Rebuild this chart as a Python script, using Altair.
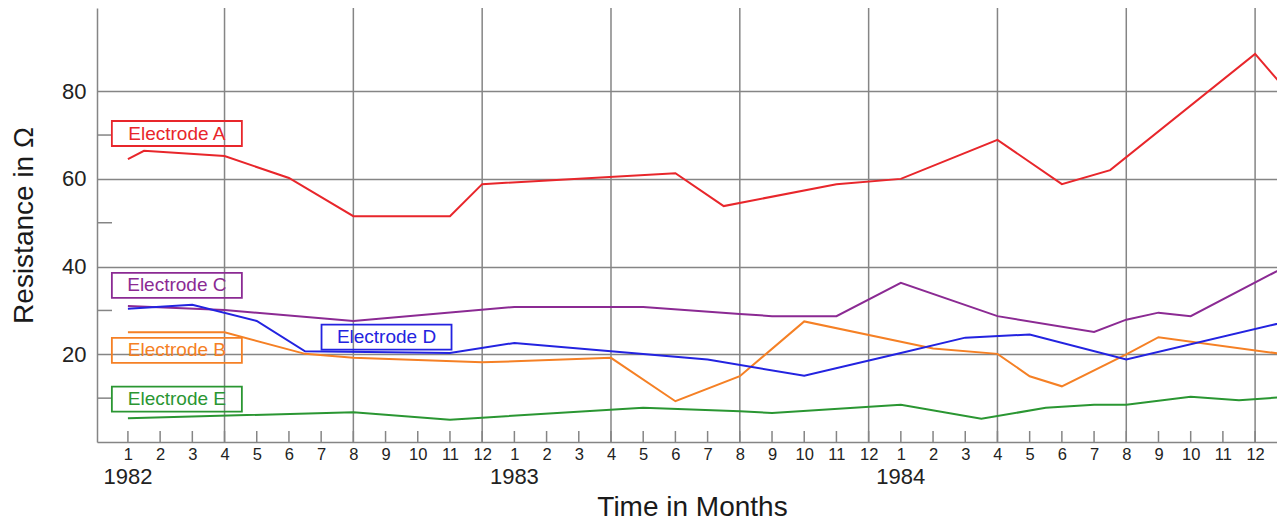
import altair as alt
import pandas as pd

# ---------------- data (month index: 0 = January 1982) ----------------
electrodes = ["Electrode A", "Electrode B", "Electrode C", "Electrode D", "Electrode E"]
colors = ["#e8262b", "#f58025", "#8b2a93", "#2323e0", "#2a9632"]

a_month = [0, 0.5, 3, 5, 7, 10, 11, 17, 18.5, 22, 24, 27, 29, 30.5, 35, 36]
a_value = [64.5, 66.4, 65.2, 60.2, 51.5, 51.5, 58.8, 61.3, 53.8, 58.8, 60.0, 68.9, 58.8, 62.0, 88.5, 80.0]

b_month = [0, 3, 5.5, 7, 11, 12, 15, 17, 19, 21, 25, 27, 28, 29, 31, 32, 36]
b_value = [25.0, 25.0, 20.1, 19.2, 18.2, 18.4, 19.2, 9.3, 15.0, 27.5, 21.3, 20.1, 15.0, 12.7, 20.0, 23.9, 19.9]

c_month = [0, 3, 7, 12, 16, 19, 20, 22, 24, 27, 30, 31, 32, 33, 36]
c_value = [31.0, 30.1, 27.6, 30.8, 30.8, 29.2, 28.7, 28.7, 36.3, 28.7, 25.1, 27.9, 29.5, 28.7, 40.2]

d_month = [0, 2, 4, 5.5, 10, 12, 18, 21, 24, 26, 28, 31, 36]
d_value = [30.4, 31.3, 27.6, 20.7, 20.3, 22.6, 18.8, 15.1, 20.3, 23.8, 24.5, 18.8, 27.5]

e_month = [0, 7, 10, 16, 19, 20, 24, 26.5, 28.5, 30, 31, 33, 34.5, 36]
e_value = [5.4, 6.8, 5.1, 7.8, 7.0, 6.6, 8.5, 5.3, 7.8, 8.5, 8.5, 10.3, 9.5, 10.3]

month_ticks = list(range(0, 36))
year_labels = ["1982", "1983", "1984"]
year_pos = [0, 12, 24]
grid_months = [3, 7, 11, 15, 19, 23, 27, 31, 35]
y_major = [20, 40, 60, 80]
y_minor = [10, 30, 50, 70]

label_month = [1.52, 1.52, 1.52, 8.03, 1.52]
label_value = [70.35, 20.9, 35.7, 23.9, 9.8]

# ---------------- tables ----------------
series = {
    "Electrode A": (a_month, a_value),
    "Electrode B": (b_month, b_value),
    "Electrode C": (c_month, c_value),
    "Electrode D": (d_month, d_value),
    "Electrode E": (e_month, e_value),
}
rows = []
for name, (ms, vs) in series.items():
    for m, v in zip(ms, vs):
        rows.append({"electrode": name, "month": m, "value": v})
df = pd.DataFrame(rows)
labels_df = pd.DataFrame({"electrode": electrodes, "month": label_month, "value": label_value})
ticks_df = pd.DataFrame({"month": month_ticks})
grid_df = pd.DataFrame({"month": grid_months})
minor_df = pd.DataFrame({"value": y_minor})
years_df = pd.DataFrame({"year": year_labels, "month": year_pos})

W, H = 1180, 434
FONT = "Liberation Sans"
GRID = "#858585"

xs = alt.Scale(domain=[-0.96, 35.68], nice=False, zero=False)
ys = alt.Scale(domain=[0, 98.97], nice=False, zero=False)
cs = alt.Scale(domain=electrodes, range=colors)

x_axis = alt.Axis(
    values=month_ticks,
    labelExpr="(datum.value % 12) + 1",
    title="Time in Months",
    grid=False, ticks=False, tickSize=0,
    labelPadding=17, labelBaseline="alphabetic", labelFontSize=16.5, labelColor="#222222",
    labelFlush=False, labelOverlap=False, labelFont=FONT,
    titleFontSize=28, titleFontWeight="normal", titleFont=FONT, titleColor="#1a1a1a",
    titleX=595, titleY=73, titleBaseline="alphabetic",
    domainColor=GRID, domainWidth=1.5,
)
y_axis = alt.Axis(
    values=y_major,
    title="Resistance in Ω",
    grid=True, gridColor=GRID, gridWidth=1.5,
    ticks=False, tickSize=0,
    labelPadding=11, labelFontSize=22, labelColor="#222222", labelFont=FONT,
    titleFontSize=28, titleFontWeight="normal", titleFont=FONT, titleColor="#1a1a1a",
    titleX=-65, titleY=H / 2, titleBaseline="alphabetic", titleAngle=270, titleAlign="center",
    domainColor=GRID, domainWidth=1.5,
)

def X(field):
    return alt.X(field, scale=xs, axis=x_axis, title="Time in Months")

def Y(field):
    return alt.Y(field, scale=ys, axis=y_axis, title="Resistance in Ω")

lines = alt.Chart(df).mark_line(strokeWidth=2, clip=True).encode(
    x=X("month:Q"),
    y=Y("value:Q"),
    color=alt.Color("electrode:N", scale=cs, legend=None),
    order=alt.Order("month:Q"),
)

vgrid = alt.Chart(grid_df).mark_rule(color=GRID, strokeWidth=1.5).encode(
    x=X("month:Q"),
    y=alt.value(0),
    y2=alt.value(H),
)

xticks = alt.Chart(ticks_df).mark_rule(color=GRID, strokeWidth=1.5).encode(
    x=X("month:Q"),
    y=alt.value(H),
    y2=alt.value(H - 11),
)

yminor = alt.Chart(minor_df).mark_rule(color=GRID, strokeWidth=1.5).encode(
    y=Y("value:Q"),
    x=alt.value(0),
    x2=alt.value(15),
)

years = alt.Chart(years_df).mark_text(
    fontSize=22, font=FONT, color="#222222", align="center", baseline="alphabetic", dy=42
).encode(
    x=X("month:Q"),
    y=alt.value(H),
    text="year:N",
)

boxes = alt.Chart(labels_df).mark_rect(filled=False, width=130, height=25, strokeWidth=1.8).encode(
    x=X("month:Q"),
    y=Y("value:Q"),
    color=alt.Color("electrode:N", scale=cs, legend=None),
)

texts = alt.Chart(labels_df).mark_text(
    fontSize=19, font=FONT, align="center", baseline="middle"
).encode(
    x=X("month:Q"),
    y=Y("value:Q"),
    text="electrode:N",
    color=alt.Color("electrode:N", scale=cs, legend=None),
)

chart = alt.layer(vgrid, xticks, yminor, lines, boxes, texts, years).properties(
    width=W,
    height=H,
    padding={"left": 89, "top": 0, "right": 0, "bottom": 79},
    autosize=alt.AutoSizeParams(type="none"),
).configure(font=FONT).configure_view(stroke=None)

chart.save("out.html", embed_options={"renderer": "svg", "actions": False})
